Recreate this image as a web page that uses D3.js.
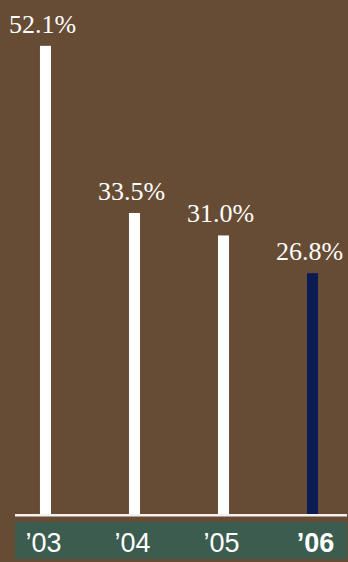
<!DOCTYPE html>
<html lang="en">
<head>
<meta charset="UTF-8">
<title>Ratio chart</title>
<script src="https://cdn.jsdelivr.net/npm/d3@7"></script>
<style>
  html, body { margin: 0; padding: 0; background: #674c35; }
  svg { display: block; }
</style>
</head>
<body>
<svg id="chart" width="348" height="562"></svg>
<script>
    // data
    let years = ["\u201903", "\u201904", "\u201905", "\u201906"]
    let values = [52.1, 33.5, 31.0, 26.8]
    let labels = ["52.1%", "33.5%", "31.0%", "26.8%"]

    let width = 348
    let height = 562
    let baseY = 514
    let svg = d3.select("#chart")

    svg.append("rect").attr("width", width).attr("height", height).attr("fill", "#674c35")

    let x = d3.scaleBand().domain(years).range([0, 358]).paddingInner(0.876).paddingOuter(0.449)
    let y = d3.scaleLinear().domain([0, 57.2]).range([baseY, 0])

    // green band for year labels
    svg.append("rect").attr("x", 15).attr("y", 522).attr("width", 332).attr("height", 37).attr("fill", "#3b5c4f")

    svg.selectAll("rect.bar")
        .data(values)
        .enter()
        .append("rect")
        .attr("class", "bar")
        .attr("x", (d, i) => x(years[i]))
        .attr("width", x.bandwidth())
        .attr("y", d => y(d))
        .attr("height", d => baseY - y(d))
        .attr("fill", (d, i) => i === 3 ? "#0d1b55" : "#ffffff")

    // baseline
    svg.append("rect").attr("x", 15).attr("y", baseY).attr("width", 332).attr("height", 2.5).attr("fill", "#f4f1ee")

    svg.selectAll("text.val")
        .data(values)
        .enter()
        .append("text")
        .attr("class", "val")
        .attr("x", (d, i) => x(years[i]) + x.bandwidth() / 2 - 3)
        .attr("y", d => y(d) - 13)
        .attr("text-anchor", "middle")
        .style("font-family", "'Liberation Serif', 'Times New Roman', serif")
        .style("font-size", "26px")
        .style("fill", "#ffffff")
        .text((d, i) => labels[i])

    svg.selectAll("text.yr")
        .data(years)
        .enter()
        .append("text")
        .attr("class", "yr")
        .attr("x", (d, i) => x(d) + x.bandwidth() / 2 + (i === 3 ? 3 : -2))
        .attr("y", 552)
        .attr("text-anchor", "middle")
        .style("font-family", "'Liberation Sans', Arial, sans-serif")
        .style("font-size", "27px")
        .style("font-weight", (d, i) => i === 3 ? "bold" : "normal")
        .style("fill", "#ffffff")
        .text(d => d)
</script>
</body>
</html>
